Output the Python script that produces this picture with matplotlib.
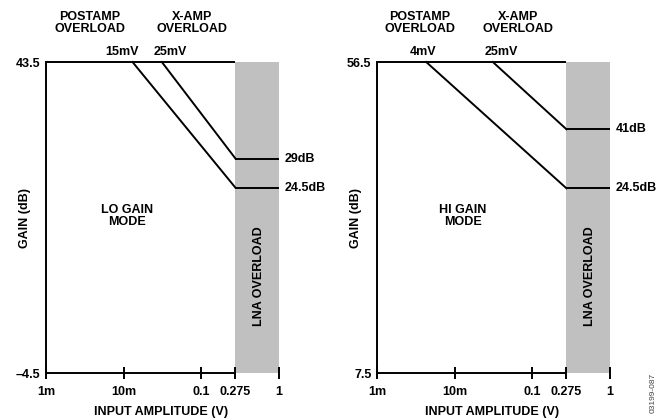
import matplotlib
matplotlib.use("Agg")
import matplotlib.pyplot as plt

plt.rcParams['font.family'] = ['Liberation Sans', 'DejaVu Sans']
plt.rcParams['font.weight'] = 'bold'
plt.rcParams['font.size'] = 9

# x ticks (input amplitude, V)
xticks = [0.001, 0.01, 0.1, 0.275, 1]
xticklabels = ['1m', '10m', '0.1', '0.275', '1']
lna_start = 0.275
lna_end = 1

# LO gain mode: y range, breakpoints (V) and end gains (dB, as drawn)
lo_ylim = [-4.5, 43.5]
lo_yticklabels = ['\u20134.5', '43.5']
lo_break = [0.013, 0.031]       # postamp, x-amp overload onset
lo_break_labels = ['15mV', '25mV']
lo_end = [24.1, 28.6]
lo_end_labels = ['24.5dB', '29dB']

# HI gain mode
hi_ylim = [7.5, 56.5]
hi_yticklabels = ['7.5', '56.5']
hi_break = [0.0043, 0.031]
hi_break_labels = ['4mV', '25mV']
hi_end = [36.6, 45.9]
hi_end_labels = ['24.5dB', '41dB']

W, H = 667, 419
fig = plt.figure(figsize=(W / 100, H / 100), dpi=100)


def panel(left_px, ylim, yticklabels, brk, brk_labels, end, end_labels,
          mode_label, hdr_x, lbl_x, mode_x):
    ax = fig.add_axes([left_px / W, 1 - 373 / H, 233 / W, 311 / H])
    ax.set_xscale('log')
    ax.set_xlim(xticks[0], xticks[-1])
    ax.set_ylim(*ylim)
    top = ylim[1]

    ax.axvspan(lna_start, lna_end, color='#c0c0c0', lw=0, zorder=0)

    # flat max gain
    ax.plot([xticks[0], lna_start], [top, top], color='black', lw=1.4,
            clip_on=False, solid_capstyle='butt')
    # overload slopes and LNA-region levels
    for b, e in zip(brk, end):
        ax.plot([b, lna_start], [top, e], color='black', lw=1.4,
                clip_on=False)
        ax.plot([lna_start, lna_end], [e, e], color='black', lw=1.4,
                clip_on=False, solid_capstyle='butt')
    for e, lab in zip(end, end_labels):
        ax.annotate(lab, (lna_end, e), xytext=(4, 0), textcoords='offset points',
                    va='center', ha='left')

    for s in ['top', 'right']:
        ax.spines[s].set_visible(False)
    ax.spines['bottom'].set_bounds(xticks[0], lna_start)
    ax.spines['left'].set_linewidth(1.4)
    ax.spines['bottom'].set_linewidth(1.4)

    ax.set_xticks(xticks)
    ax.set_xticklabels(xticklabels)
    ax.xaxis.set_minor_locator(matplotlib.ticker.NullLocator())
    ax.tick_params(axis='x', direction='inout', length=8, width=1.4, pad=5)
    ax.set_yticks(ylim)
    ax.set_yticklabels(yticklabels)
    ax.tick_params(axis='y', length=0, pad=4)

    ax.text(hdr_x[0], 1.125, 'POSTAMP\nOVERLOAD', transform=ax.transAxes,
            ha='center', va='center', linespacing=1.0)
    ax.text(hdr_x[1], 1.125, 'X-AMP\nOVERLOAD', transform=ax.transAxes,
            ha='center', va='center', linespacing=1.0)
    for x, lab in zip(lbl_x, brk_labels):
        ax.text(x, 1.032, lab, transform=ax.transAxes, ha='center', va='center')

    ax.text(mode_x, 0.505, mode_label, transform=ax.transAxes,
            ha='center', va='center', linespacing=1.0)
    ax.text(0.914, 0.312, 'LNA OVERLOAD', transform=ax.transAxes,
            rotation=90, ha='center', va='center')
    ax.text(-0.09, 0.5, 'GAIN (dB)', transform=ax.transAxes,
            rotation=90, ha='center', va='center')
    ax.text(0.494, -0.126, 'INPUT AMPLITUDE (V)', transform=ax.transAxes,
            ha='center', va='center')
    return ax


panel(46, lo_ylim, lo_yticklabels, lo_break, lo_break_labels, lo_end,
      lo_end_labels, 'LO GAIN\nMODE', (0.189, 0.627), (0.326, 0.532), 0.348)
panel(377, hi_ylim, hi_yticklabels, hi_break, hi_break_labels, hi_end,
      hi_end_labels, 'HI GAIN\nMODE', (0.185, 0.605), (0.197, 0.532), 0.369)

fig.text(653 / W, 1 - 393 / H, '03199-087', rotation=90, ha='center',
         va='center', fontsize=6, fontweight='normal', color='#444444')

fig.savefig('out.png', dpi=100)
